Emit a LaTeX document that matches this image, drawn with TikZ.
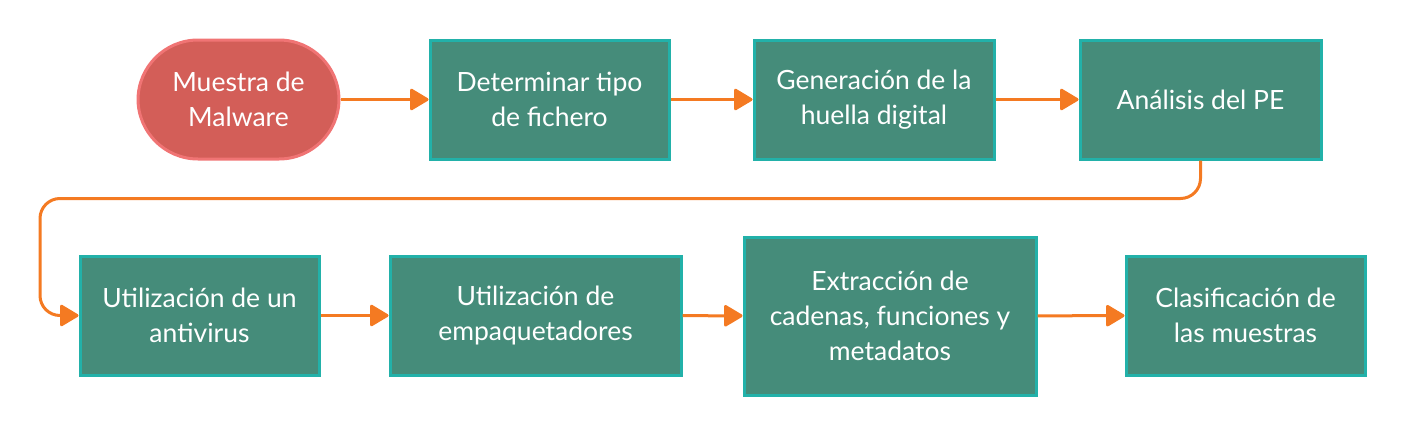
\documentclass[tikz,border=0pt]{standalone}
\usepackage{fontspec}
\setmainfont{Lato}
\usetikzlibrary{arrows.meta}
\definecolor{caja}{HTML}{458C7A}
\definecolor{borde}{HTML}{22B1A9}
\definecolor{rojo}{HTML}{D35E58}
\definecolor{rosa}{HTML}{F07474}
\definecolor{naranja}{HTML}{F47A22}

\begin{document}
\begin{tikzpicture}[x=1pt, y=-1pt,
  paso/.style = {draw=borde, fill=caja, line width=3pt, text=white, align=center,
    minimum height=119pt, inner sep=0pt, font=\fontsize{26.5}{35}\selectfont},
  inicio/.style = {draw=rosa, fill=rojo, line width=3pt, text=white, align=center,
    rounded corners=60pt, minimum width=201pt, minimum height=119pt, inner sep=0pt,
    font=\fontsize{26.5}{35}\selectfont},
  flecha/.style = {draw=naranja, line width=3pt, -{Triangle[length=20pt, width=23pt, round]}}]
\useasboundingbox (0,0) rectangle (1406,437);
% fila de arriba
\node[inicio] (m) at (238.5,99.5) {Muestra de\\Malware};
\node[paso, minimum width=239pt] (t) at (549.5,99.5) {Determinar tipo\\de fichero};
\node[paso, minimum width=240pt] (h) at (874,99.5) {Generación de la\\huella digital};
\node[paso, minimum width=241pt] (pe) at (1200.5,99.5) {Análisis del PE};
% fila de abajo
\node[paso, minimum width=239pt] (av) at (199.5,315.5) {Utilización de un\\antivirus};
\node[paso, minimum width=291pt] (emp) at (535.5,315.5) {Utilización de\\empaquetadores};
\node[paso, minimum width=292pt, minimum height=158pt] (ext) at (890,316) {Extracción de\\cadenas, funciones y\\metadatos};
\node[paso, minimum width=239pt] (cl) at (1245.5,315.5) {Clasificación de\\las muestras};
% conectores
\draw[flecha] (m) -- (t);
\draw[flecha] (t) -- (h);
\draw[flecha] (h) -- (pe);
\draw[flecha, rounded corners=20pt] (pe.south) -- ++(0,38) -| (40,315.5) -- (av.west);
\draw[flecha] (av) -- (emp);
\draw[flecha] (emp) -- (ext);
\draw[flecha] (ext) -- (cl);
\end{tikzpicture}
\end{document}
